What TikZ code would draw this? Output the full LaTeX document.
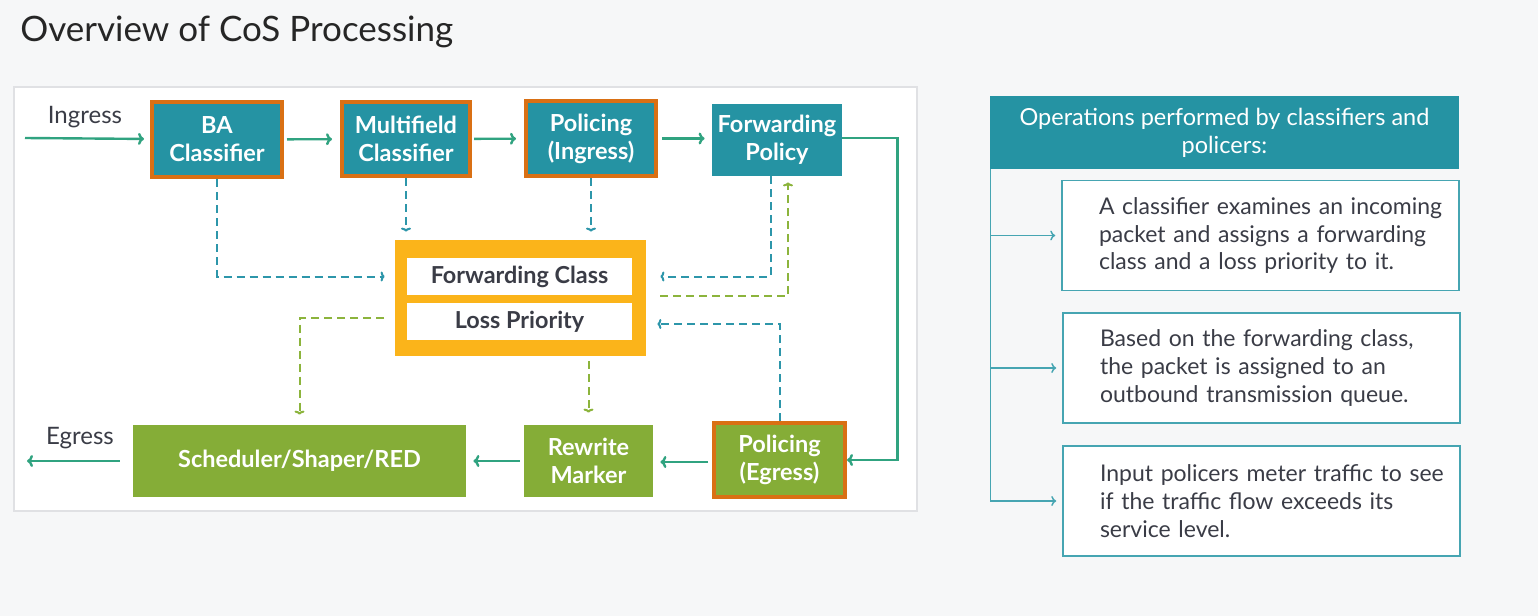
\documentclass[tikz,border=0pt]{standalone}
\usepackage{fontspec}
\setmainfont{Lato}
\usetikzlibrary{arrows.meta}
\definecolor{tealbox}{RGB}{37,147,163}
\definecolor{orangeb}{RGB}{217,112,20}
\definecolor{greenbox}{RGB}{133,173,55}
\definecolor{yellowb}{RGB}{251,180,26}
\definecolor{flowc}{RGB}{48,163,128}
\definecolor{tdashc}{RGB}{45,150,170}
\definecolor{gdashc}{RGB}{140,180,60}
\definecolor{panel}{RGB}{70,165,178}
\definecolor{ink}{RGB}{58,60,70}
\definecolor{bg}{RGB}{246,247,248}
\definecolor{framec}{RGB}{224,225,228}

\begin{document}
\begin{tikzpicture}[x=0.5pt,y=-0.5pt,
  lbl/.style={text=ink,font=\fontsize{12}{14}\selectfont},
  box/.style={text=white,font=\bfseries\fontsize{11.75}{14}\selectfont,align=center,inner sep=0pt},
  tbox/.style={box,fill=tealbox,minimum width=65pt,minimum height=37.5pt},
  obox/.style={draw=orangeb,line width=2pt},
  gbox/.style={box,fill=greenbox,minimum height=36pt},
  wbox/.style={fill=white,text=ink,font=\bfseries\fontsize{11.7}{14}\selectfont,minimum width=112.5pt,minimum height=18.5pt,inner sep=0pt},
  flow/.style={draw=flowc,line width=1.2pt,-{To[length=3pt,width=6pt]}},
  tdash/.style={draw=tdashc,line width=1pt,dash pattern=on 4pt off 2.5pt,-{To[length=2pt,width=5pt]}},
  gdash/.style={draw=gdashc,line width=1pt,dash pattern=on 4pt off 2.5pt,-{To[length=2pt,width=5pt]}},
  note/.style={draw=panel,line width=0.75pt,fill=white,text=ink,font=\fontsize{11.5}{14}\selectfont,minimum width=198.5pt,minimum height=55pt,text width=186pt,align=left,execute at begin node={\leftskip=12.25pt}},
  pline/.style={draw=panel,line width=0.75pt,-{To[length=2.5pt,width=5pt]}}]

\fill[bg] (0,0) rectangle (1538,616);
\node[anchor=west,inner sep=0pt,text=black!85,font=\fontsize{17.5}{20}\selectfont] (title) at (20,32) {Overview of CoS Processing};
\draw[draw=framec,fill=white,line width=0.6pt] (14,87) rectangle (917,511);

% top row
\node[tbox,obox] (ba) at (217,139.5) {BA\\Classifier};
\node[tbox,obox,minimum width=64pt,minimum height=37pt] (mf) at (406,139) {Multifield\\Classifier};
\node[tbox,obox] (pi) at (591,138.5) {Policing\\(Ingress)};
\node[tbox,minimum height=36pt] (fp) at (777,140) {Forwarding\\Policy};
\node[lbl] (ingress) at (85,117) {Ingress};
\coordinate (in) at (25,138);

% forwarding class / loss priority
\node[fill=yellowb,minimum width=125.5pt,minimum height=58pt,inner sep=0pt] (yb) at (520.5,298) {};
\node[wbox] (fc) at (519.5,276.5) {Forwarding Class};
\node[wbox] (lp) at (519.5,321.5) {Loss Priority};

% bottom row
\node[gbox,minimum width=166.5pt] (sch) at (299.5,461) {Scheduler/Shaper/RED};
\node[gbox,minimum width=64.5pt] (rw) at (588.5,461) {Rewrite\\Marker};
\node[box,fill=greenbox,obox,minimum width=65.5pt,minimum height=37pt] (pe) at (779.5,460) {Policing\\(Egress)};
\node[lbl] (egress) at (80,438) {Egress};
\coordinate (out) at (27,461);

\draw[flow,shorten >=3pt] (in) -- (ba);
\draw[flow,shorten <=1.5pt,shorten >=4pt] (ba) -- (mf);
\draw[flow,shorten <=1pt,shorten >=4pt] (mf) -- (pi);
\draw[flow,shorten <=2pt,shorten >=3.5pt] (pi) -- (fp.west |- pi);
\draw[flow] (fp.east |- 0,138) -- ++(55,0) |- (pe.east);
\draw[flow,shorten <=2pt,shorten >=3.5pt] (pe.west |- 0,462) -- (rw.east |- 0,462);
\draw[flow,shorten <=2pt,shorten >=3.5pt] (rw) -- (sch);
\draw[flow,shorten <=6.5pt] (sch) -- (out);

% dashed links
\coordinate (g1) at (660,296);
\coordinate (g2) at (384,318);
\draw[tdash] (ba.south) |- ([xshift=-5pt]yb.west |- fc);
\draw[tdash,shorten >=4pt] (mf.south) -- (mf.south |- yb.north);
\draw[tdash,shorten >=4pt] (pi.south) -- (pi.south |- yb.north);
\draw[tdash,shorten >=7pt] ([xshift=-3pt]fp.south) |- (yb.east |- fc);
\draw[gdash,shorten >=3pt] (g1) -| ([xshift=5.5pt]fp.south);
\draw[gdash,shorten >=5pt] (g2) -| (sch.north);
\draw[gdash,shorten <=2.5pt,shorten >=6pt] (yb.south -| rw.north) -- (rw.north);
\draw[tdash,shorten >=5.5pt] (pe.north) |- (yb.east |- 0,324);

% right panel
\node[fill=tealbox,text=white,font=\fontsize{11.75}{14}\selectfont,align=center,minimum width=234.5pt,minimum height=36.5pt,inner sep=0pt] (hd) at (1224.5,132.5) {Operations performed by classifiers and\\policers:};
\node[note] (b1) at (1260.5,235.5) {A classifier examines an incoming\\packet and assigns a forwarding\\class and a loss priority to it.};
\node[note] (b2) at (1261.5,368) {Based on the forwarding class,\\the packet is assigned to an\\outbound transmission queue.};
\node[note] (b3) at (1261.5,501) {Input policers meter traffic to see\\if the traffic flow exceeds its\\service level.};
\draw[pline,shorten >=3pt] ([xshift=0.5pt]hd.south west) |- (b3.west);
\draw[pline,shorten >=3pt] ([xshift=0.5pt]hd.south west |- b1.west) -- (b1.west);
\draw[pline,shorten >=3pt] ([xshift=0.5pt]hd.south west |- b2.west) -- (b2.west);
\end{tikzpicture}
\end{document}
